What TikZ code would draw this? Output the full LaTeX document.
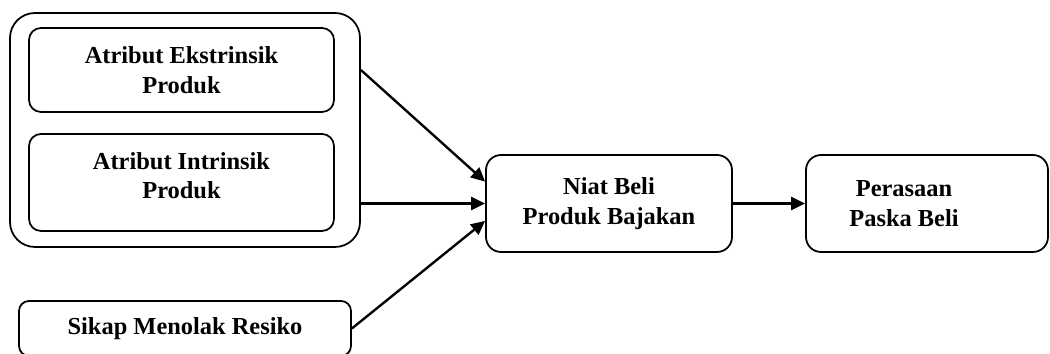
\documentclass[tikz,border=0pt]{standalone}
\usepackage{fontspec}
\setmainfont{Liberation Serif}
\usetikzlibrary{arrows.meta,calc}

\begin{document}
\begin{tikzpicture}[font=\fontsize{13.9}{16.8}\selectfont\bfseries,
  >={Triangle[length=.28cm,width=.26cm]},
  box/.style={draw,line width=1pt,rounded corners=.24cm,align=center,inner sep=0pt},
  link/.style={->,line width=1.35pt}]
  \useasboundingbox (0,0) rectangle (21,7.08);

  \node[box,rounded corners=.5cm,minimum width=7cm,minimum height=4.68cm]
    (group) at (3.7,4.48) {};
  \node[box,minimum width=6.1cm,minimum height=1.68cm]
    (ekst) at (3.63,5.68) {Atribut Ekstrinsik\\Produk};
  \node[box,minimum width=6.1cm,minimum height=1.94cm,text depth=.28cm]
    (intr) at (3.63,3.43) {Atribut Intrinsik\\Produk};
  \node[box,rounded corners=.2cm,minimum width=6.64cm,minimum height=1.1cm]
    (sikap) at (3.7,.51) {Sikap Menolak Resiko};

  \node[box,rounded corners=.3cm,minimum width=4.92cm,minimum height=1.94cm]
    (niat) at (12.18,3.01) {Niat Beli\\Produk Bajakan};
  \node[box,rounded corners=.3cm,minimum width=4.84cm,minimum height=1.94cm]
    (rasa) at (18.54,3.01) {Perasaan\hspace*{.92cm}\\Paska Beli\hspace*{.92cm}};

  \draw[link] (group.east |- ekst) -- (niat.170);
  \draw[link] (group.east |- niat.west) -- (niat.west);
  \draw[link] (sikap.east) -- (niat.188.5);
  \draw[link] (niat) -- (rasa);
\end{tikzpicture}
\end{document}
